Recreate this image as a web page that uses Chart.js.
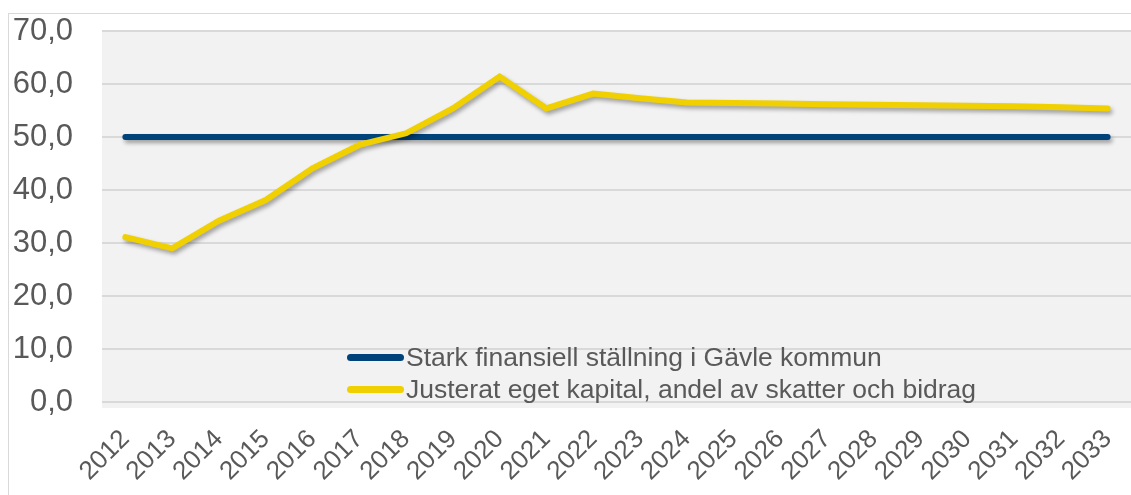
<!DOCTYPE html>
<html>
<head>
<meta charset="utf-8">
<script src="https://cdn.jsdelivr.net/npm/chart.js@4"></script>
<style>
  body { margin: 0; background: #fff; width: 1131px; height: 495px; overflow: hidden; position: relative; }
  #frame { position: absolute; left: 8px; top: 13px; width: 1140px; height: 500px; border: 1px solid #d9d9d9; box-sizing: border-box; }
  canvas { position: absolute; left: 0; top: 0; }
  #legend { position: absolute; left: 347px; top: 341px; font-family: "Liberation Sans", Arial, sans-serif; font-size: 26.5px; color: #595959; }
  #legend div { display: flex; align-items: center; height: 32px; }
  #legend span.box { display: inline-block; width: 57px; height: 7px; border-radius: 4px; margin-right: 2px; }
</style>
</head>
<body>
<div id="frame"></div>
<canvas id="chart" width="1131" height="495"></canvas>
<div id="legend"></div>
<script>
// Data
const years = ['2012', '2013', '2014', '2015', '2016', '2017', '2018', '2019', '2020', '2021', '2022',
  '2023', '2024', '2025', '2026', '2027', '2028', '2029', '2030', '2031', '2032', '2033'];
const starkFinansiell = [50, 50, 50, 50, 50, 50, 50, 50, 50, 50, 50,
  50, 50, 50, 50, 50, 50, 50, 50, 50, 50, 50];
const justeratEgetKapital = [31.1, 29.0, 34.2, 38.1, 44.1, 48.5, 50.7, 55.4, 61.4, 55.4, 58.2,
  57.3, 56.5, 56.4, 56.3, 56.2, 56.1, 56.0, 55.9, 55.8, 55.6, 55.4];

const textColor = '#595959';
const font = '"Liberation Sans", Arial, sans-serif';

// Grey plot background
const plotBackground = {
  id: 'plotBackground',
  beforeDraw(c) {
    const { ctx, chartArea: a } = c;
    ctx.save();
    ctx.fillStyle = '#f2f2f2';
    ctx.fillRect(a.left, a.top - 1, a.right - a.left, a.bottom - a.top + 7);
    ctx.restore();
  },
};

// Soft drop shadow under the lines
const lineShadow = {
  id: 'lineShadow',
  beforeDatasetDraw(c) {
    const ctx = c.ctx;
    ctx.save();
    ctx.shadowColor = 'rgba(0,0,0,0.35)';
    ctx.shadowBlur = 4;
    ctx.shadowOffsetX = 2;
    ctx.shadowOffsetY = 3;
  },
  afterDatasetDraw(c) {
    c.ctx.restore();
  },
};

const chart = new Chart(document.getElementById('chart'), {
  type: 'line',
  data: {
    labels: years,
    datasets: [
      {
        label: 'Stark finansiell ställning i Gävle kommun',
        data: starkFinansiell,
        borderColor: '#00427a',
        borderWidth: 6,
        borderCapStyle: 'round',
        tension: 0,
        pointRadius: 0,
        order: 1,
      },
      {
        label: 'Justerat eget kapital, andel av skatter och bidrag',
        data: justeratEgetKapital,
        borderColor: '#f0d000',
        borderWidth: 6,
        borderCapStyle: 'round',
        borderJoinStyle: 'miter',
        tension: 0,
        pointRadius: 0,
        order: 0,
      },
    ],
  },
  options: {
    responsive: false,
    animation: false,
    layout: {
      padding: { top: 31, right: 0, left: 0, bottom: 0 },
    },
    scales: {
      y: {
        min: 0,
        max: 70,
        border: { display: false },
        grid: { color: '#d9d9d9', lineWidth: 2, drawTicks: false },
        ticks: {
          stepSize: 10,
          padding: 29,
          color: textColor,
          font: { family: font, size: 31 },
          callback: (v) => v.toFixed(1).replace('.', ','),
        },
        afterFit: (s) => {
          s.width = 102;
          s.paddingTop = 0;
          s.paddingBottom = 0;
        },
      },
      x: {
        offset: true,
        border: { display: false },
        grid: { display: false },
        ticks: {
          minRotation: 45,
          maxRotation: 45,
          padding: 14,
          autoSkip: false,
          color: textColor,
          font: { family: font, size: 26 },
        },
        afterFit: (s) => {
          s.height = 93;
          s.paddingLeft = 0;
          s.paddingRight = 0;
        },
      },
    },
    plugins: {
      legend: { display: false },
      tooltip: { enabled: false },
    },
  },
  plugins: [plotBackground, lineShadow],
});

// HTML legend
const legend = document.getElementById('legend');
chart.data.datasets.forEach((ds) => {
  const row = document.createElement('div');
  const box = document.createElement('span');
  box.className = 'box';
  box.style.background = ds.borderColor;
  row.appendChild(box);
  row.appendChild(document.createTextNode(ds.label));
  legend.appendChild(row);
});
</script>
</body>
</html>
